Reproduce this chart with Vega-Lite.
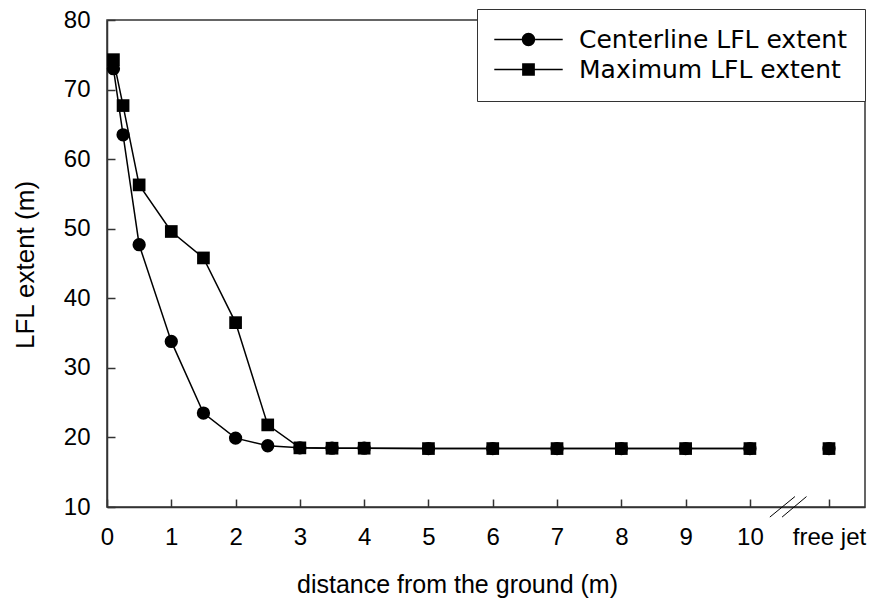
{
  "$schema": "https://vega.github.io/schema/vega-lite/v6.json",
  "width": 758,
  "height": 487,
  "autosize": {"type": "none"},
  "padding": {"left": 107, "top": 20, "right": 18, "bottom": 92},
  "background": "white",
  "config": {
    "view": {"stroke": "#333", "strokeWidth": 1.5},
    "font": "Liberation Sans",
    "axis": {
      "domainColor": "#333", "domainWidth": 1.5,
      "tickColor": "#333", "tickWidth": 1.5,
      "grid": false, "labelColor": "black", "titleColor": "black",
      "labelFont": "Liberation Sans", "titleFont": "Liberation Sans",
      "titleFontWeight": "normal", "labelFlush": false, "labelOverlap": false
    }
  },
  "datasets": {
    "lfl": [
      {"x": 0.1, "y": 73.0, "series": "Centerline LFL extent"},
      {"x": 0.25, "y": 63.5, "series": "Centerline LFL extent"},
      {"x": 0.5, "y": 47.7, "series": "Centerline LFL extent"},
      {"x": 1, "y": 33.8, "series": "Centerline LFL extent"},
      {"x": 1.5, "y": 23.5, "series": "Centerline LFL extent"},
      {"x": 2, "y": 19.9, "series": "Centerline LFL extent"},
      {"x": 2.5, "y": 18.8, "series": "Centerline LFL extent"},
      {"x": 3, "y": 18.5, "series": "Centerline LFL extent"},
      {"x": 3.5, "y": 18.45, "series": "Centerline LFL extent"},
      {"x": 4, "y": 18.45, "series": "Centerline LFL extent"},
      {"x": 5, "y": 18.4, "series": "Centerline LFL extent"},
      {"x": 6, "y": 18.4, "series": "Centerline LFL extent"},
      {"x": 7, "y": 18.4, "series": "Centerline LFL extent"},
      {"x": 8, "y": 18.4, "series": "Centerline LFL extent"},
      {"x": 9, "y": 18.4, "series": "Centerline LFL extent"},
      {"x": 10, "y": 18.4, "series": "Centerline LFL extent"},
      {"x": 11.23, "y": 18.4, "series": "Centerline LFL extent"},
      {"x": 0.1, "y": 74.3, "series": "Maximum LFL extent"},
      {"x": 0.25, "y": 67.7, "series": "Maximum LFL extent"},
      {"x": 0.5, "y": 56.3, "series": "Maximum LFL extent"},
      {"x": 1, "y": 49.6, "series": "Maximum LFL extent"},
      {"x": 1.5, "y": 45.8, "series": "Maximum LFL extent"},
      {"x": 2, "y": 36.5, "series": "Maximum LFL extent"},
      {"x": 2.5, "y": 21.8, "series": "Maximum LFL extent"},
      {"x": 3, "y": 18.5, "series": "Maximum LFL extent"},
      {"x": 3.5, "y": 18.45, "series": "Maximum LFL extent"},
      {"x": 4, "y": 18.45, "series": "Maximum LFL extent"},
      {"x": 5, "y": 18.4, "series": "Maximum LFL extent"},
      {"x": 6, "y": 18.4, "series": "Maximum LFL extent"},
      {"x": 7, "y": 18.4, "series": "Maximum LFL extent"},
      {"x": 8, "y": 18.4, "series": "Maximum LFL extent"},
      {"x": 9, "y": 18.4, "series": "Maximum LFL extent"},
      {"x": 10, "y": 18.4, "series": "Maximum LFL extent"},
      {"x": 11.23, "y": 18.4, "series": "Maximum LFL extent"}
    ],
    "breaks": [
      {"x": 10.31, "x2": 10.70, "y": 8.55, "y2": 11.5},
      {"x": 10.50, "x2": 10.88, "y": 8.55, "y2": 11.5}
    ]
  },
  "layer": [
    {
      "data": {"name": "lfl"},
      "transform": [{"filter": "datum.x <= 10"}],
      "mark": {"type": "line", "color": "black", "strokeWidth": 1.5},
      "encoding": {
        "x": {
          "field": "x", "type": "quantitative",
          "scale": {"domain": [0, 11.79], "nice": false, "zero": false},
          "axis": {
            "values": [0, 1, 2, 3, 4, 5, 6, 7, 8, 9, 10, 11.23],
            "format": "d",
            "labelExpr": "datum.value > 10.5 ? 'free jet' : datum.label",
            "tickSize": -8, "labelPadding": 26, "labelFontSize": 24,
            "title": "distance from the ground (m)", "titleFontSize": 25,
            "titleX": 350, "titleY": 85, "titleAlign": "center", "titleBaseline": "alphabetic"
          }
        },
        "y": {
          "field": "y", "type": "quantitative",
          "scale": {"domain": [10, 80], "nice": false, "zero": false},
          "axis": {
            "values": [10, 20, 30, 40, 50, 60, 70, 80],
            "format": "d",
            "tickSize": -8, "labelPadding": 25, "labelFontSize": 24,
            "title": "LFL extent (m)", "titleFontSize": 26,
            "titleX": -74, "titleY": 244.5, "titleAngle": -90,
            "titleAlign": "center", "titleBaseline": "alphabetic"
          }
        },
        "detail": {"field": "series"}
      }
    },
    {
      "data": {"name": "lfl"},
      "transform": [{"filter": "datum.series === 'Centerline LFL extent'"}],
      "mark": {"type": "point", "shape": "circle", "filled": true, "color": "black", "opacity": 1, "size": 177},
      "encoding": {
        "x": {"field": "x", "type": "quantitative"},
        "y": {"field": "y", "type": "quantitative"}
      }
    },
    {
      "data": {"name": "lfl"},
      "transform": [{"filter": "datum.series === 'Maximum LFL extent'"}],
      "mark": {"type": "point", "shape": "square", "filled": true, "color": "black", "opacity": 1, "size": 161},
      "encoding": {
        "x": {"field": "x", "type": "quantitative"},
        "y": {"field": "y", "type": "quantitative"}
      }
    },
    {
      "data": {"name": "lfl"},
      "mark": {"type": "point", "filled": true, "color": "black", "opacity": 0, "size": 180},
      "encoding": {
        "x": {"field": "x", "type": "quantitative"},
        "y": {"field": "y", "type": "quantitative"},
        "shape": {
          "field": "series", "type": "nominal",
          "scale": {
            "domain": ["Centerline LFL extent", "Maximum LFL extent"],
            "range": [
              "M-5.1,-0.11H-1V0.11H-5.1Z M1,-0.11H5.1V0.11H1Z M-1,0A1,1,0,1,0,1,0A1,1,0,1,0,-1,0Z",
              "M-5.1,-0.11H-0.95V0.11H-5.1Z M0.95,-0.11H5.1V0.11H0.95Z M-0.95,-0.95H0.95V0.95H-0.95Z"
            ]
          },
          "legend": {
            "orient": "none", "legendX": 370, "legendY": -11, "title": null,
            "padding": 18, "strokeColor": "#333", "fillColor": "white",
            "labelFontSize": 25, "labelFont": "DejaVu Sans", "labelColor": "black",
            "labelLimit": 500,
            "symbolSize": 180, "symbolOffset": 21, "labelOffset": 38, "rowPadding": 4,
            "symbolFillColor": "black", "symbolStrokeWidth": 0, "symbolOpacity": 1
          }
        }
      }
    },
    {
      "data": {"name": "breaks"},
      "mark": {"type": "rule", "color": "black", "strokeWidth": 1},
      "encoding": {
        "x": {"field": "x", "type": "quantitative"},
        "x2": {"field": "x2"},
        "y": {"field": "y", "type": "quantitative"},
        "y2": {"field": "y2"}
      }
    }
  ]
}
